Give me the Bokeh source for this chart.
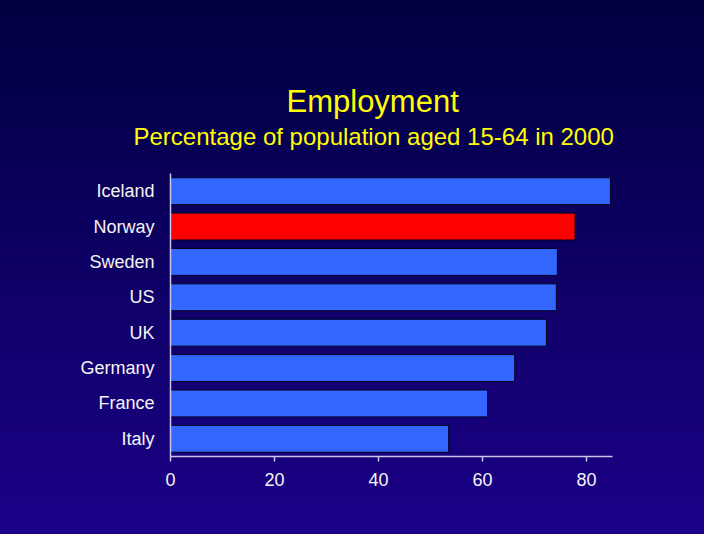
from bokeh.plotting import figure
from bokeh.models import ColumnDataSource, Title, FactorRange, FixedTicker
from bokeh.embed import file_html
from bokeh.resources import INLINE

countries = ["Iceland", "Norway", "Sweden", "US", "UK", "Germany", "France", "Italy"]
employment = [84.6, 77.8, 74.4, 74.2, 72.3, 66.2, 61.0, 53.5]
bar_colors = ["#3366ff", "#ff0000", "#3366ff", "#3366ff", "#3366ff", "#3366ff", "#3366ff", "#3366ff"]
x_ticks = [0, 20, 40, 60, 80]
title_text = "Employment"
subtitle_text = "Percentage of population aged 15-64 in 2000"

FONT = "Liberation Sans"

src = ColumnDataSource(dict(country=countries, value=employment, color=bar_colors))

p = figure(width=704, height=534,
           y_range=FactorRange(factors=list(reversed(countries)), range_padding=0),
           x_range=(0, 85),
           output_backend="svg", toolbar_location=None,
           min_border_left=170, min_border_right=92,
           min_border_top=173, min_border_bottom=78)

p.styles = {"background": "linear-gradient(to bottom, #000040 0%, #1c0088 100%)"}
p.background_fill_color = None
p.border_fill_color = None
p.outline_line_color = None
p.xgrid.visible = False
p.ygrid.visible = False

p.hbar(y="country", right="value", left=0, height=0.76, source=src,
       fill_color="color", line_color="#000022", line_width=1)

axis_col = "#c8c8e8"
p.xaxis.ticker = FixedTicker(ticks=x_ticks)
p.xaxis.axis_line_color = axis_col
p.xaxis.axis_line_width = 1.5
p.xaxis.major_tick_line_color = axis_col
p.xaxis.major_tick_line_width = 1.5
p.xaxis.major_tick_out = 5
p.xaxis.major_tick_in = 0
p.xaxis.minor_tick_line_color = None
p.xaxis.major_label_text_color = "#f4f4f4"
p.xaxis.major_label_text_font = FONT
p.xaxis.major_label_text_font_size = "18px"
p.xaxis.major_label_standoff = 11

p.yaxis.axis_line_color = axis_col
p.yaxis.axis_line_width = 1.5
p.yaxis.major_tick_line_color = None
p.yaxis.major_tick_out = 0
p.yaxis.major_tick_in = 0
p.yaxis.minor_tick_line_color = None
p.yaxis.major_label_text_color = "#f4f4f4"
p.yaxis.major_label_text_font = FONT
p.yaxis.major_label_text_font_size = "18px"
p.yaxis.major_label_standoff = 16

p.add_layout(Title(text=subtitle_text, align="left", offset=-37, standoff=47,
                   text_color="#ffff00", text_font=FONT, text_font_size="24px",
                   text_font_style="normal"), "above")
p.add_layout(Title(text=title_text, align="left", offset=116, standoff=-42,
                   text_color="#ffff00", text_font=FONT, text_font_size="31px",
                   text_font_style="normal"), "above")

open("out.html", "w").write(file_html(p, INLINE))
